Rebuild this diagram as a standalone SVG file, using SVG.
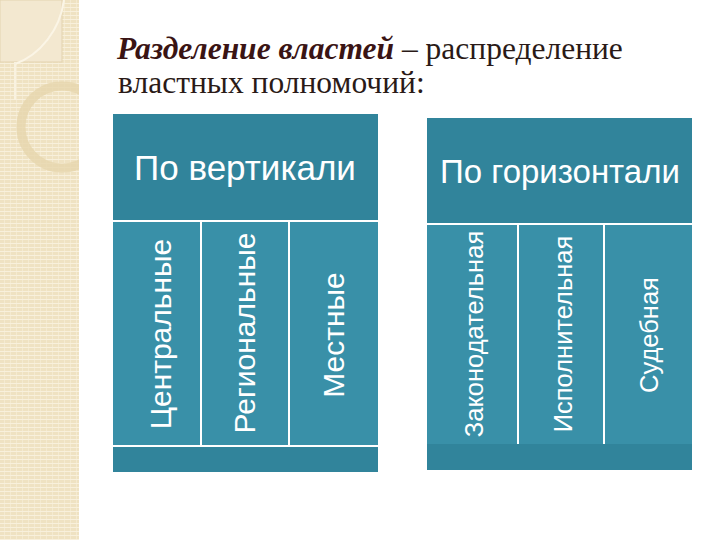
<svg xmlns="http://www.w3.org/2000/svg" width="720" height="540" viewBox="0 0 720 540">
<defs>
<pattern id="stripes" x="0" y="0" width="6" height="4" patternUnits="userSpaceOnUse">
<rect width="6" height="4" fill="#EFE2C2"/>
<rect y="3" width="6" height="1" fill="#F8F0DC"/>
<rect x="4" width="1" height="3" fill="#F4EAD0"/>
</pattern>
<style>
.hdr{fill:#31849B}
.col{fill:#3990A8}
.line{stroke:#FFFFFF;stroke-width:2}
.htxt{font-family:"Liberation Sans",Arial,sans-serif;fill:#FFFFFF;text-anchor:middle}
.vtxt{font-family:"Liberation Sans",Arial,sans-serif;fill:#FFFFFF;text-anchor:middle}
.title{font-family:"Liberation Serif","Times New Roman",serif;font-size:31.5px;fill:#2A1A17}
</style>
</defs>
<rect width="720" height="540" fill="#FFFFFF"/>
<!-- decorative strip -->
<rect x="0" y="0" width="79" height="540" fill="url(#stripes)"/>
<rect x="0" y="0" width="62" height="62" fill="#F3E8D0" stroke="#E3D3B0" stroke-width="1"/>
<path d="M64,0 C60,30 40,55 15,64" fill="none" stroke="#FBF5E6" stroke-width="2"/>
<line x1="15" y1="62" x2="15" y2="100" stroke="#F9F2E0" stroke-width="2"/>
<circle cx="62" cy="127" r="41" fill="none" stroke="#E6D6AC" stroke-width="9" opacity="0.8"/>
<rect x="79" y="0" width="30" height="540" fill="#FFFFFF"/>
<!-- title -->
<text class="title" x="117" y="59"><tspan font-weight="bold" font-style="italic" fill="#3A1414">Разделение властей</tspan> – распределение</text>
<text class="title" x="118" y="93">властных полномочий:</text>
<!-- left panel -->
<g id="vertical">
<rect class="hdr" x="113" y="114" width="265" height="106"/>
<text class="htxt" font-size="35" x="245" y="180">По вертикали</text>
</g>
<g id="central">
<rect class="col" x="113" y="221" width="88" height="225"/>
<text class="vtxt" font-size="30" transform="translate(160,334) rotate(-90)" y="11">Центральные</text>
</g>
<g id="regional">
<rect class="col" x="201" y="221" width="88" height="225"/>
<text class="vtxt" font-size="30" transform="translate(244,333) rotate(-90)" y="11">Региональные</text>
</g>
<g id="local">
<rect class="col" x="289" y="221" width="89" height="225"/>
<text class="vtxt" font-size="30" transform="translate(333,335) rotate(-90)" y="11">Местные</text>
</g>
<rect class="hdr" x="113" y="446" width="265" height="26"/>
<!-- right panel -->
<g id="horizontal">
<rect class="hdr" x="427" y="118" width="265" height="106"/>
<text class="htxt" font-size="33" x="560" y="183">По горизонтали</text>
</g>
<g id="legislative">
<rect class="col" x="427" y="225" width="91" height="219"/>
<text class="vtxt" font-size="25.5" transform="translate(474,334) rotate(-90)" y="9">Законодательная</text>
</g>
<g id="executive">
<rect class="col" x="518" y="225" width="86" height="219"/>
<text class="vtxt" font-size="25.5" transform="translate(563,334) rotate(-90)" y="9">Исполнительная</text>
</g>
<g id="judicial">
<rect class="col" x="604" y="225" width="88" height="219"/>
<text class="vtxt" font-size="25.5" transform="translate(649,335) rotate(-90)" y="9">Судебная</text>
</g>
<rect class="hdr" x="427" y="444" width="265" height="26"/>
<g id="connectors">
<line class="line" x1="113" y1="221" x2="378" y2="221"/>
<line class="line" x1="113" y1="446" x2="378" y2="446"/>
<line class="line" x1="201" y1="221" x2="201" y2="446"/>
<line class="line" x1="289" y1="221" x2="289" y2="446"/>
<line class="line" x1="427" y1="224" x2="692" y2="224"/>
<line class="line" x1="518" y1="224" x2="518" y2="444"/>
<line class="line" x1="604" y1="224" x2="604" y2="444"/>
</g>
</svg>
